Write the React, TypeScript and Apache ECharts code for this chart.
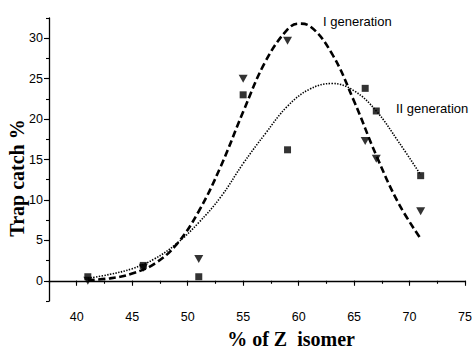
import React, { useEffect, useRef } from "react";
import * as echarts from "echarts";

// Observed trap catches (% of total) per Z-isomer content
const POINT_X = [41, 46, 51, 55, 59, 66, 67, 71];
const GEN1_POINTS = [0, 1.6, 2.7, 25, 29.7, 17.3, 15.1, 8.6];
const GEN2_POINTS = [0.5, 1.9, 0.5, 23, 16.2, 23.8, 21.0, 13.0];

// Fitted curves
const FIT1_X = [41, 43, 45, 47, 49, 51, 53, 55, 57, 59, 60, 61, 63, 65, 67, 69, 71];
const FIT1_Y = [0.1, 0.3, 0.9, 2.1, 4.5, 8.6, 14.2, 20.9, 27.1, 31.1, 31.8, 31.5, 28.1, 22.2, 15.5, 9.6, 5.2];
const FIT2_X = [41, 43, 45, 47, 49, 51, 53, 55, 57, 59, 61, 63, 65, 67, 69, 71];
const FIT2_Y = [0.3, 0.8, 1.5, 2.7, 4.6, 7.2, 10.4, 14.5, 18.2, 21.6, 23.7, 24.4, 23.5, 21.0, 17.2, 13.1];

const X_MAJOR = [40, 45, 50, 55, 60, 65, 70, 75];
const Y_MAJOR = [0, 5, 10, 15, 20, 25, 30];

const X_TITLE = "% of Z  isomer";
const Y_TITLE = "Trap catch %";
const LABEL_GEN1 = "I generation";
const LABEL_GEN2 = "II generation";

const SANS = "'Liberation Sans', Arial, sans-serif";
const SERIF = "'Liberation Serif', 'Times New Roman', serif";

export default function App() {
  const ref = useRef<HTMLDivElement>(null);
  useEffect(() => {
    if (!ref.current) return;
    const chart = echarts.init(ref.current, undefined, { renderer: "svg" });
    const axisLine = { show: true, lineStyle: { color: "#000", width: 1.3 } };
    const labelStyle = { color: "#000", fontSize: 12.5, fontFamily: SANS };
    chart.setOption({
      animation: false,
      backgroundColor: "#fff",
      grid: { left: 49, right: 9, top: 18, bottom: 48 },
      xAxis: [
        {
          type: "value",
          min: 37.5,
          max: 75,
          interval: 2.5,
          position: "bottom",
          axisLine,
          axisTick: { show: true, length: 3, lineStyle: { color: "#000", width: 1.1 } },
          axisLabel: {
            ...labelStyle,
            margin: 9,
            formatter: (v: number) => (X_MAJOR.includes(v) ? String(v) : ""),
          },
          splitLine: { show: false },
        },
        {
          type: "value",
          min: 37.5,
          max: 75,
          position: "bottom",
          axisLine: { show: false },
          axisTick: { show: true, length: 5, customValues: X_MAJOR, lineStyle: { color: "#000", width: 1.1 } },
          axisLabel: { show: false },
          splitLine: { show: false },
        },
      ],
      yAxis: [
        {
          type: "value",
          min: -2.5,
          max: 32.5,
          interval: 2.5,
          position: "left",
          axisLine,
          axisTick: { show: true, length: 3, lineStyle: { color: "#000", width: 1.1 } },
          axisLabel: {
            ...labelStyle,
            margin: 6,
            formatter: (v: number) => (Y_MAJOR.includes(v) ? String(v) : ""),
          },
          splitLine: { show: false },
        },
        {
          type: "value",
          min: -2.5,
          max: 32.5,
          position: "left",
          axisLine: { show: false },
          axisTick: { show: true, length: 5, customValues: Y_MAJOR, lineStyle: { color: "#000", width: 1.1 } },
          axisLabel: { show: false },
          splitLine: { show: false },
        },
      ],
      series: [
        {
          type: "line",
          name: "fit I",
          data: FIT1_X.map((x, i) => [x, FIT1_Y[i]]),
          smooth: 0.4,
          showSymbol: false,
          lineStyle: { color: "#000", width: 2.6, type: [7, 3.5] },
          z: 2,
        },
        {
          type: "line",
          name: "fit II",
          data: FIT2_X.map((x, i) => [x, FIT2_Y[i]]),
          smooth: 0.4,
          showSymbol: false,
          lineStyle: { color: "#000", width: 1.6, type: [1.4, 1.4] },
          z: 2,
        },
        {
          type: "scatter",
          name: "I generation",
          data: POINT_X.map((x, i) => [x, GEN1_POINTS[i]]),
          symbol: "triangle",
          symbolRotate: 180,
          symbolSize: [9, 8],
          itemStyle: { color: "#000" },
          z: 3,
        },
        {
          type: "scatter",
          name: "II generation",
          data: POINT_X.map((x, i) => [x, GEN2_POINTS[i]]),
          symbol: "rect",
          symbolSize: 7,
          itemStyle: { color: "#000" },
          z: 3,
        },
      ],
      graphic: [
        {
          type: "text",
          x: 291,
          y: 349,
          style: {
            text: X_TITLE,
            font: `bold 20px ${SERIF}`,
            fill: "#000",
            textAlign: "center",
            textVerticalAlign: "bottom",
            align: "center",
            verticalAlign: "bottom",
          },
        },
        {
          type: "text",
          x: 17,
          y: 178,
          rotation: Math.PI / 2,
          style: {
            text: Y_TITLE,
            font: `bold 20px ${SERIF}`,
            fill: "#000",
            textAlign: "center",
            textVerticalAlign: "middle",
            align: "center",
            verticalAlign: "middle",
          },
        },
        {
          type: "text",
          x: 323,
          y: 21,
          style: {
            text: LABEL_GEN1,
            font: `13px ${SANS}`,
            fill: "#000",
            textAlign: "left",
            textVerticalAlign: "middle",
            align: "left",
            verticalAlign: "middle",
          },
        },
        {
          type: "text",
          x: 396,
          y: 108,
          style: {
            text: LABEL_GEN2,
            font: `13px ${SANS}`,
            fill: "#000",
            textAlign: "left",
            textVerticalAlign: "middle",
            align: "left",
            verticalAlign: "middle",
          },
        },
      ],
    });
    return () => chart.dispose();
  }, []);
  return (
    <div
      ref={ref}
      style={{ position: "fixed", left: 0, top: 0, width: 475, height: 349 }}
    />
  );
}
